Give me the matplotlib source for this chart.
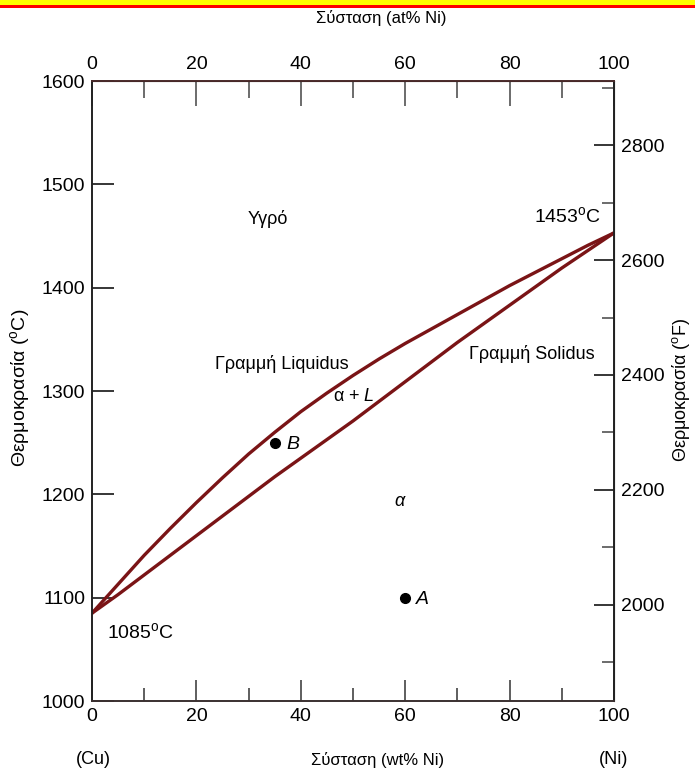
import numpy as np
import matplotlib
matplotlib.use("Agg")
import matplotlib.pyplot as plt
from matplotlib.patches import Rectangle

plt.rcParams['font.family'] = ['Liberation Sans', 'DejaVu Sans']
plt.rcParams['mathtext.fontset'] = 'custom'
plt.rcParams['mathtext.rm'] = 'Liberation Sans'
plt.rcParams['mathtext.it'] = 'Liberation Sans:italic'

# composition (wt% Ni) and the two phase boundaries (deg C)
wt_ni = [0, 5, 10, 15, 20, 25, 30, 35, 40, 45, 50, 55, 60, 65, 70, 75, 80, 85, 90, 95, 100]
liquidus_c = [1085, 1113, 1141, 1167, 1192, 1216, 1239, 1260, 1280, 1298, 1315,
              1331, 1346, 1360, 1374, 1388, 1402, 1415, 1428, 1441, 1453]
solidus_c = [1085, 1103, 1122, 1141, 1160, 1179, 1198, 1217, 1235, 1253, 1271,
             1290, 1309, 1328, 1347, 1365, 1383, 1401, 1419, 1436, 1453]

# the two marked alloys
point_names = ['A', 'B']
point_wt = [60, 35]
point_c = [1100, 1250]

x_ticks = [0, 20, 40, 60, 80, 100]
x_minor = [10, 30, 50, 70, 90]
c_ticks = [1000, 1100, 1200, 1300, 1400, 1500, 1600]
f_ticks = [2000, 2200, 2400, 2600, 2800]
f_minor = [1900, 2100, 2300, 2500, 2700, 2900]

curve_col = '#7a1416'

fig = plt.figure(figsize=(6.95, 7.71), dpi=100)
ax = fig.add_axes([92/695, 70/771, 522/695, 620/771])

ax.plot(wt_ni, liquidus_c, color=curve_col, lw=2.4, solid_joinstyle='round')
ax.plot(wt_ni, solidus_c, color=curve_col, lw=2.4, solid_joinstyle='round')
ax.plot(point_wt, point_c, 'o', color='black', ms=7)

ax.set_xlim(0, 100)
ax.set_ylim(1000, 1600)

ax.set_xticks(x_ticks)
ax.set_xticks(x_minor, minor=True)
ax.set_yticks(c_ticks)
ax.tick_params(axis='x', which='major', direction='in', length=15, width=1.1,
               pad=5, labelsize=14, color='#333333', top=False)
ax.tick_params(axis='x', which='minor', direction='in', length=9.5, width=1.1,
               color='#333333', top=False)
ax.tick_params(axis='y', which='major', direction='in', length=16, width=1.1,
               pad=5, labelsize=14, right=False)

# tick marks in the scan come out in odd colours
left_cols = ['#333333', '#a04040', '#405090', '#b0a040', '#7050c0', '#8a6a8a', '#333333']
for t, c in zip(ax.yaxis.get_major_ticks(), left_cols):
    t.tick1line.set_color(c)

for s in ax.spines.values():
    s.set_linewidth(1.4)
ax.spines['top'].set_color('#4a2a2a')
ax.spines['bottom'].set_color('#3a3030')
ax.spines['left'].set_color('#222222')
ax.spines['right'].set_color('#222222')

# top axis: at% Ni
top = ax.secondary_xaxis('top')
top.set_xticks(x_ticks)
top.set_xticks(x_minor, minor=True)
top.tick_params(axis='x', which='major', direction='in', length=18, width=1.1,
                pad=6, labelsize=14, color='#444444')
top.tick_params(axis='x', which='minor', direction='in', length=12, width=1.1,
                color='#444444')


def c2f(c):
    return np.asarray(c) * 9 / 5 + 32


def f2c(f):
    return (np.asarray(f) - 32) * 5 / 9


right = ax.secondary_yaxis('right', functions=(c2f, f2c))
right.set_yticks(f_ticks)
right.set_yticks(f_minor, minor=True)
right.tick_params(axis='y', which='major', direction='in', length=14.5, width=1.1,
                  pad=5, labelsize=14)
right.tick_params(axis='y', which='minor', direction='in', length=8.5, width=1.1,
                  color='#444444')
right_cols = ['#4070c0', '#b06030', '#3080a0', '#a04090', '#a03050']
for t, c in zip(right.yaxis.get_major_ticks(), right_cols):
    t.tick2line.set_color(c)
minor_cols = ['#444444', '#40a080', '#444444', '#a05020', '#444444', '#444444']
for t, c in zip(right.yaxis.get_minor_ticks(), minor_cols):
    t.tick2line.set_color(c)

# region and line labels
fs = 13
ax.text(33.7, 1466, 'Υγρό', ha='center', va='center', fontsize=fs)
ax.text(91, 1469, '1453$^{\\mathrm{o}}$C', ha='center', va='center', fontsize=14)
ax.text(36.4, 1326, 'Γραμμή Liquidus', ha='center', va='center', fontsize=fs)
ax.text(84.3, 1336, 'Γραμμή Solidus', ha='center', va='center', fontsize=fs)
ax.text(50.2, 1295, 'α + $\\mathit{L}$', ha='center', va='center', fontsize=fs)
ax.text(59, 1193, 'α', ha='center', va='center', fontsize=fs, style='italic')
ax.text(9.2, 1067, '1085$^{\\mathrm{o}}$C', ha='center', va='center', fontsize=14)
for name, w, c in zip(point_names, point_wt, point_c):
    ax.text(w + 3.4, c - 2, name, ha='center', va='center', fontsize=14, style='italic')

# axis titles
fig.text(381/695, 1 - 18/771, 'Σύσταση (at% Ni)', ha='center', va='center', fontsize=12)
fig.text(378/695, 1 - 760/771, 'Σύσταση (wt% Ni)', ha='center', va='center', fontsize=12)
fig.text(93/695, 1 - 760/771, '(Cu)', ha='center', va='center', fontsize=13)
fig.text(614/695, 1 - 760/771, '(Ni)', ha='center', va='center', fontsize=13)
fig.text(20/695, 1 - 388/771, 'Θερμοκρασία ($^{\\mathrm{o}}$C)', rotation=90,
         ha='center', va='center', fontsize=14)
fig.text(681/695, 1 - 390/771, 'Θερμοκρασία ($^{\\mathrm{o}}$F)', rotation=90,
         ha='center', va='center', fontsize=13)

# yellow / red strip along the top edge
fig.patches.append(Rectangle((0, 1 - 4.5/771), 1, 4.5/771, transform=fig.transFigure,
                             facecolor='#ffff00', edgecolor='none'))
fig.patches.append(Rectangle((0, 1 - 7.5/771), 1, 3/771, transform=fig.transFigure,
                             facecolor='#ff0000', edgecolor='none'))

fig.savefig('out.png', dpi=100)
